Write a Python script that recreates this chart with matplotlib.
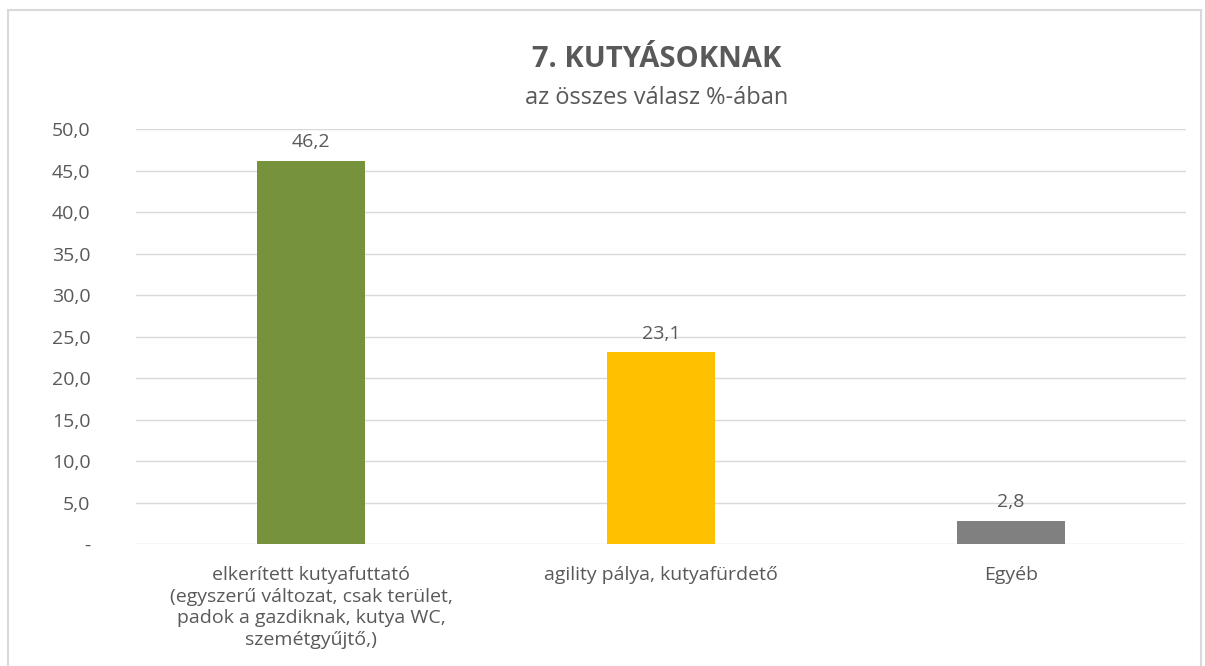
import matplotlib.pyplot as plt
from matplotlib.patches import Rectangle

# data
categories = [
    "elkerített kutyafuttató\n(egyszerű változat, csak terület,\npadok a gazdiknak, kutya WC,\nszemétgyűjtő,)",
    "agility pálya, kutyafürdető",
    "Egyéb",
]
values = [46.2, 23.1, 2.8]
bar_colors = ["#76923C", "#FFC000", "#808080"]
yticks = [0, 5, 10, 15, 20, 25, 30, 35, 40, 45, 50]

plt.rcParams["font.family"] = ["Open Sans", "DejaVu Sans"]
text_col = "#595959"

fig = plt.figure(figsize=(12.05, 6.66), dpi=100)
ax = fig.add_axes([0.113, 0.183, 0.871, 0.623])

x = list(range(len(categories)))
ax.bar(x, values, width=0.31, color=bar_colors, zorder=3)

for xi, v in zip(x, values):
    ax.annotate(f"{v:.1f}".replace(".", ","), (xi, v), xytext=(0, 7),
                textcoords="offset points", ha="center", va="bottom",
                fontsize=14, color=text_col)

ax.set_xlim(-0.5, 2.5)
ax.set_ylim(0, 50)
ax.set_yticks(yticks)
ax.set_yticklabels(["-" if t == 0 else f"{t:.1f}".replace(".", ",") for t in yticks])
ax.set_xticks(x)
ax.set_xticklabels(categories, linespacing=1.25)
ax.tick_params(axis="both", length=0, labelsize=14, labelcolor=text_col)
ax.tick_params(axis="y", pad=33)
ax.tick_params(axis="x", pad=16)

ax.grid(axis="y", color="#D9D9D9", linewidth=1, zorder=0)
for s in ax.spines.values():
    s.set_visible(False)

fig.text(0.545, 0.91, "7. KUTYÁSOKNAK", ha="center", va="center",
         fontsize=21, fontweight="bold", color=text_col)
fig.text(0.545, 0.853, "az összes válasz %-ában", ha="center", va="center",
         fontsize=17, color=text_col)

# outer chart border
fig.patches.append(Rectangle((0.007, -0.01), 0.99, 0.995, transform=fig.transFigure,
                             fill=False, edgecolor="#D9D9D9", linewidth=1.5))

fig.savefig("out.png", dpi=100)
